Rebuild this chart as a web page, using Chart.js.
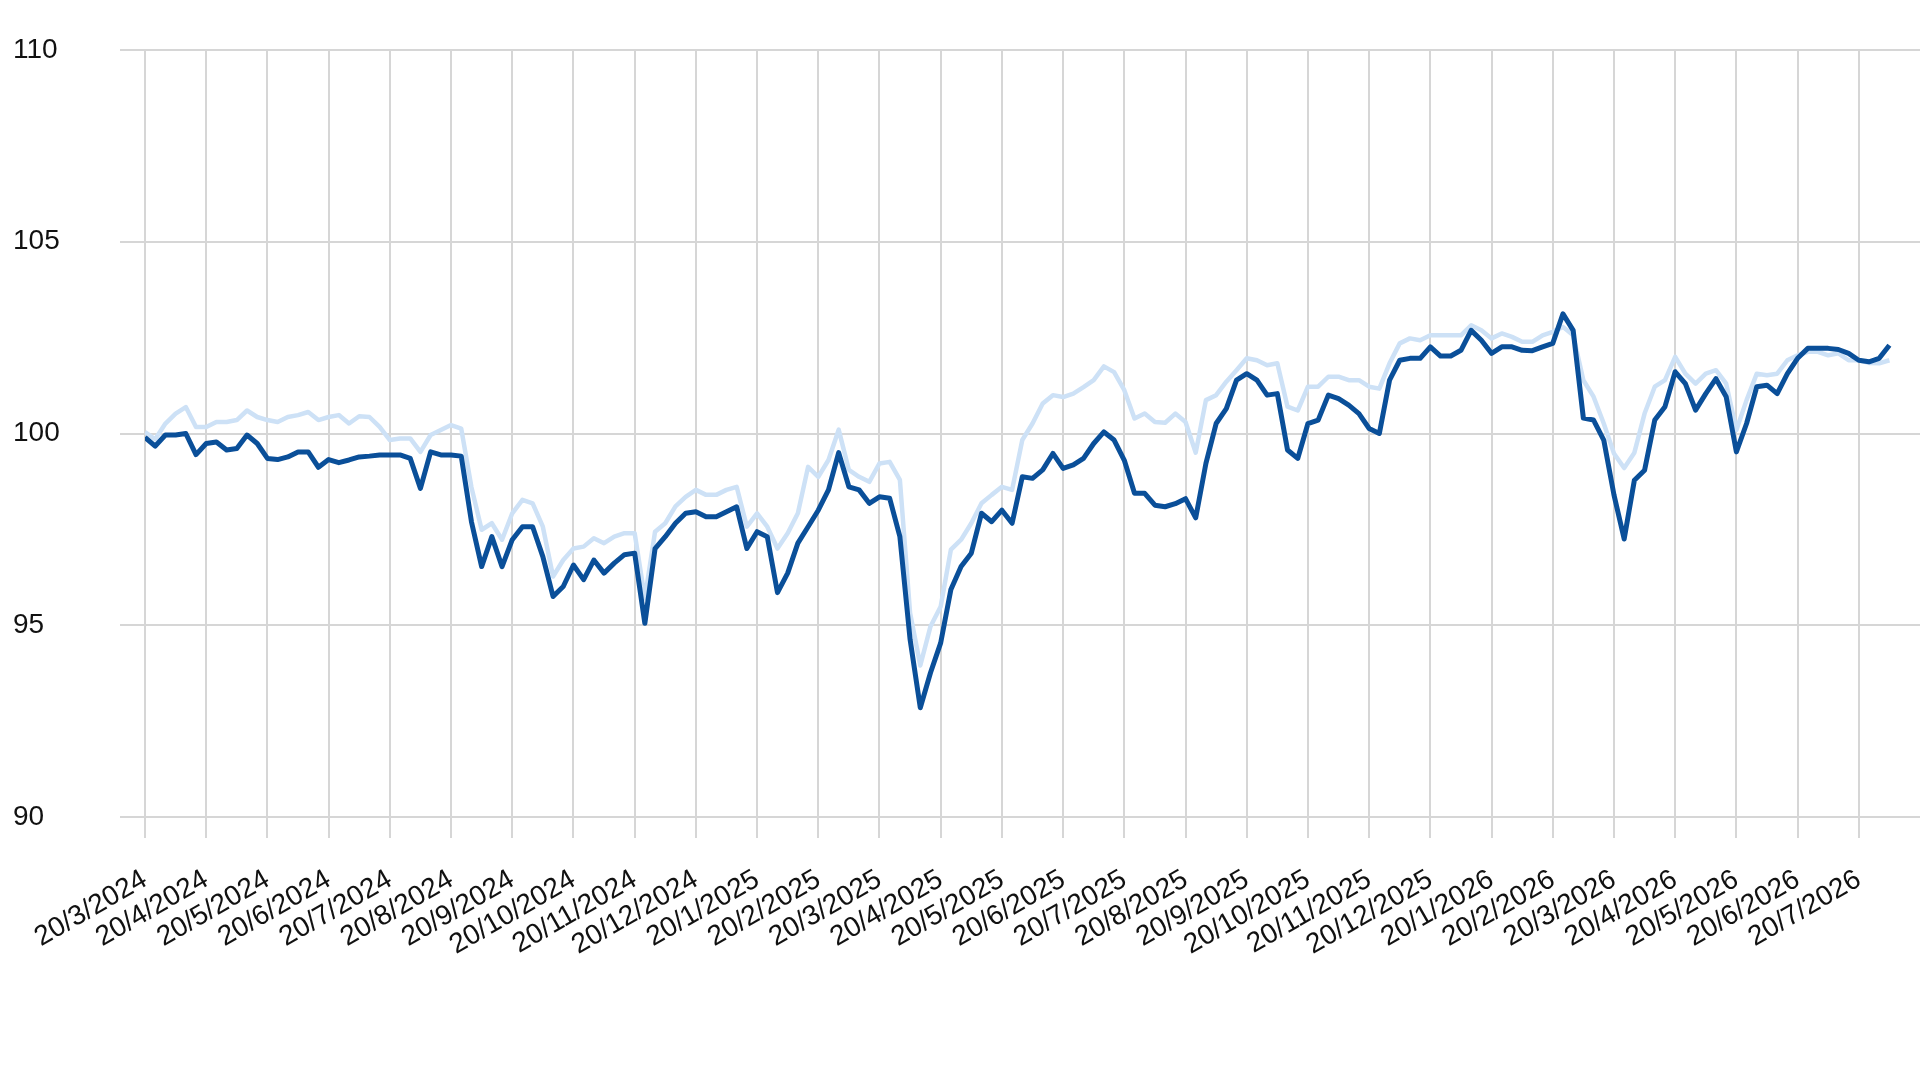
<!DOCTYPE html>
<html>
<head>
<meta charset="utf-8">
<script src="https://cdn.jsdelivr.net/npm/chart.js@4.4.1/dist/chart.umd.min.js"></script>
<style>
  html, body { margin: 0; padding: 0; background: #fff; }
  #wrap { width: 1920px; height: 1079px; position: relative; }
</style>
</head>
<body>
<div id="wrap"><canvas id="chart"></canvas></div>
<script>
// tick labels, one per month
const tickLabels = [
  "20/3/2024", "20/4/2024", "20/5/2024", "20/6/2024", "20/7/2024", "20/8/2024",
  "20/9/2024", "20/10/2024", "20/11/2024", "20/12/2024", "20/1/2025", "20/2/2025",
  "20/3/2025", "20/4/2025", "20/5/2025", "20/6/2025", "20/7/2025", "20/8/2025",
  "20/9/2025", "20/10/2025", "20/11/2025", "20/12/2025", "20/1/2026", "20/2/2026",
  "20/3/2026", "20/4/2026", "20/5/2026", "20/6/2026", "20/7/2026"
];

// values read every 1/6 month starting 20/3/2024
const SAMPLES_PER_MONTH = 6;

const darkSeries = [
  99.9, 99.67, 99.96, 99.96, 100.0, 99.45, 99.74, 99.78, 99.57, 99.61, 99.96, 99.74,
  99.35, 99.32, 99.39, 99.52, 99.52, 99.12, 99.32, 99.24, 99.31, 99.39, 99.41, 99.44,
  99.44, 99.44, 99.35, 98.57, 99.52, 99.44, 99.44, 99.41, 97.7, 96.53, 97.31, 96.53,
  97.23, 97.57, 97.57, 96.79, 95.75, 96.01, 96.57, 96.19, 96.7, 96.36, 96.62, 96.84,
  96.88, 95.05, 97.0, 97.31, 97.66, 97.92, 97.96, 97.83, 97.83, 97.96, 98.09, 97.0,
  97.44, 97.31, 95.85, 96.36, 97.14, 97.57, 98.0, 98.53, 99.5, 98.61, 98.53, 98.18,
  98.35, 98.31, 97.31, 94.63, 92.85, 93.76, 94.54, 95.93, 96.53, 96.88, 97.92, 97.7,
  98.0, 97.66, 98.87, 98.83, 99.05, 99.48, 99.09, 99.18, 99.35, 99.74, 100.04, 99.83,
  99.3, 98.44, 98.44, 98.13, 98.09, 98.17, 98.3, 97.8, 99.22, 100.26, 100.65, 101.39,
  101.56, 101.39, 101.0, 101.04, 99.57, 99.35, 100.26, 100.35, 101.0, 100.91, 100.74, 100.52,
  100.13, 100.0, 101.39, 101.91, 101.96, 101.96, 102.26, 102.02, 102.02, 102.17, 102.69, 102.43,
  102.09, 102.26, 102.26, 102.17, 102.16, 102.26, 102.35, 103.12, 102.69, 100.4, 100.35, 99.83,
  98.4, 97.25, 98.78, 99.04, 100.35, 100.7, 101.61, 101.3, 100.61, 101.04, 101.43, 100.96,
  99.52, 100.26, 101.22, 101.26, 101.04, 101.56, 101.96, 102.22, 102.22, 102.22, 102.19, 102.09,
  101.91, 101.87, 101.96, 102.3
];

const lightSeries = [
  100.04, 99.85, 100.26, 100.52, 100.69, 100.17, 100.17, 100.3, 100.3, 100.35, 100.6, 100.43,
  100.35, 100.3, 100.43, 100.48, 100.56, 100.35, 100.43, 100.48, 100.26, 100.45, 100.43, 100.17,
  99.83, 99.87, 99.87, 99.52, 99.96, 100.09, 100.22, 100.13, 98.6, 97.49, 97.66, 97.23,
  97.92, 98.27, 98.18, 97.57, 96.27, 96.7, 97.0, 97.05, 97.27, 97.14, 97.31, 97.4,
  97.4, 95.7, 97.44, 97.66, 98.1, 98.35, 98.53, 98.4, 98.4, 98.53, 98.61, 97.57,
  97.92, 97.57, 97.0, 97.4, 97.92, 99.13, 98.87, 99.31, 100.1, 99.05, 98.87, 98.74,
  99.22, 99.26, 98.79, 95.32, 93.95, 94.97, 95.49, 96.97, 97.23, 97.66, 98.18, 98.4,
  98.61, 98.53, 99.83, 100.26, 100.78, 101.0, 100.95, 101.04, 101.21, 101.39, 101.75, 101.6,
  101.13, 100.39, 100.52, 100.3, 100.28, 100.52, 100.3, 99.5, 100.87, 101.0, 101.35, 101.65,
  101.96, 101.91, 101.78, 101.83, 100.7, 100.6, 101.22, 101.22, 101.48, 101.48, 101.39, 101.39,
  101.22, 101.17, 101.83, 102.35, 102.48, 102.43, 102.56, 102.56, 102.56, 102.56, 102.82, 102.69,
  102.48, 102.61, 102.52, 102.39, 102.39, 102.56, 102.65, 102.78, 102.56, 101.39, 100.96, 100.26,
  99.48, 99.1, 99.5, 100.52, 101.22, 101.39, 102.0, 101.56, 101.3, 101.56, 101.65, 101.3,
  100.09, 100.87, 101.56, 101.52, 101.56, 101.91, 102.04, 102.13, 102.13, 102.04, 102.09, 101.91,
  101.91, 101.84, 101.83, 101.91
];

function toPoints(series) {
  return series.map((y, i) => ({ x: i / SAMPLES_PER_MONTH, y: y }));
}

const labelFont = { family: "'Liberation Sans', Arial, sans-serif", size: 28 };
const gridColor = "#d6d6d6";

new Chart(document.getElementById("chart").getContext("2d"), {
  type: "line",
  data: {
    datasets: [
      {
        data: toPoints(darkSeries),
        borderColor: "#0a4f99",
        borderWidth: 5,
        pointRadius: 0,
        tension: 0,
        borderJoinStyle: "round"
      },
      {
        data: toPoints(lightSeries),
        borderColor: "#cde1f6",
        borderWidth: 4.5,
        pointRadius: 0,
        tension: 0,
        borderJoinStyle: "round"
      }
    ]
  },
  options: {
    responsive: true,
    maintainAspectRatio: false,
    animation: false,
    devicePixelRatio: 1,
    layout: { padding: { left: 13, top: 50, right: 0, bottom: 0 } },
    plugins: {
      legend: { display: false },
      tooltip: { enabled: false }
    },
    scales: {
      x: {
        type: "linear",
        min: 0,
        max: 29,
        afterBuildTicks: (axis) => {
          axis.ticks = tickLabels.map((_, i) => ({ value: i }));
        },
        afterFit: (axis) => { axis.height = 262; },
        ticks: {
          callback: (v) => tickLabels[v],
          autoSkip: false,
          minRotation: 30,
          maxRotation: 30,
          padding: 25,
          color: "#111",
          font: labelFont
        },
        grid: { color: gridColor, lineWidth: 2, tickLength: 21 },
        border: { display: false }
      },
      y: {
        min: 90,
        max: 110,
        afterFit: (axis) => { axis.width = 132; },
        ticks: {
          stepSize: 5,
          crossAlign: "far",
          color: "#111",
          font: labelFont
        },
        grid: { color: gridColor, lineWidth: 2, tickLength: 25 },
        border: { display: false }
      }
    }
  }
});
</script>
</body>
</html>
